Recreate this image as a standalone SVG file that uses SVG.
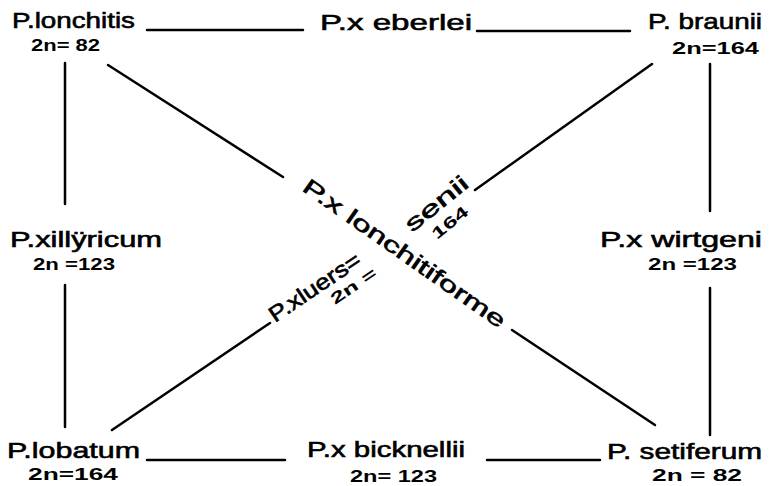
<svg xmlns="http://www.w3.org/2000/svg" width="769" height="486" viewBox="0 0 769 486">
<style>
.n{font-family:"Liberation Sans","DejaVu Sans",sans-serif;font-size:22px;fill:#000;stroke:#000;stroke-width:0.6;}
.c{font-family:"Liberation Sans","DejaVu Sans",sans-serif;font-size:16px;font-weight:bold;fill:#000;}
.l{stroke:#000;stroke-width:2.5;fill:none;stroke-linecap:round;}
</style>
<rect width="769" height="486" fill="#fff"/>
<g id="connectors">
<line class="l" x1="147" y1="30" x2="303" y2="30"/>
<line class="l" x1="477" y1="31" x2="630" y2="31"/>
<line class="l" x1="147" y1="460" x2="285" y2="460"/>
<line class="l" x1="487" y1="460" x2="600" y2="460"/>
<line class="l" x1="65" y1="63" x2="65" y2="204"/>
<line class="l" x1="65" y1="285" x2="65" y2="427"/>
<line class="l" x1="710" y1="64" x2="710" y2="211"/>
<line class="l" x1="710" y1="288" x2="710" y2="435"/>
<line class="l" x1="108" y1="65" x2="283" y2="177"/>
<line class="l" x1="512" y1="330" x2="655" y2="425"/>
<line class="l" x1="652" y1="64" x2="475" y2="190"/>
<line class="l" x1="270" y1="323" x2="112" y2="430"/>
</g>
<g id="lonchitis"><text class="n" x="12" y="28" textLength="123" lengthAdjust="spacingAndGlyphs">P.lonchitis</text><text class="c" x="31" y="51" textLength="69" lengthAdjust="spacingAndGlyphs">2n= 82</text></g>
<g id="eberlei"><text class="n" x="320" y="30" textLength="152" lengthAdjust="spacingAndGlyphs">P.x eberlei</text></g>
<g id="braunii"><text class="n" x="648" y="29" textLength="114" lengthAdjust="spacingAndGlyphs">P. braunii</text><text class="c" x="672" y="54" textLength="87" lengthAdjust="spacingAndGlyphs">2n=164</text></g>
<g id="illyricum"><text class="n" x="10" y="247" textLength="152" lengthAdjust="spacingAndGlyphs">P.xillÿricum</text><text class="c" x="33" y="270" textLength="82" lengthAdjust="spacingAndGlyphs">2n =123</text></g>
<g id="wirtgeni"><text class="n" x="600" y="247" textLength="162" lengthAdjust="spacingAndGlyphs">P.x wirtgeni</text><text class="c" x="648" y="270" textLength="89" lengthAdjust="spacingAndGlyphs">2n =123</text></g>
<g id="lobatum"><text class="n" x="7" y="458" textLength="133" lengthAdjust="spacingAndGlyphs">P.lobatum</text><text class="c" x="28" y="480" textLength="90" lengthAdjust="spacingAndGlyphs">2n=164</text></g>
<g id="bicknellii"><text class="n" x="307" y="457" textLength="158" lengthAdjust="spacingAndGlyphs">P.x bicknellii</text><text class="c" x="350" y="482" textLength="87" lengthAdjust="spacingAndGlyphs">2n= 123</text></g>
<g id="setiferum"><text class="n" x="607" y="459" textLength="155" lengthAdjust="spacingAndGlyphs">P. setiferum</text><text class="c" x="652" y="481" textLength="90" lengthAdjust="spacingAndGlyphs">2n = 82</text></g>
<g id="lonchitiforme"><text class="n" transform="translate(301,190) rotate(35)" x="0" y="0" textLength="242" lengthAdjust="spacingAndGlyphs">P.x lonchitiforme</text></g>
<g id="bicknellii-senii"><text class="n" transform="translate(412,233) rotate(-39)" x="0" y="0" textLength="75" lengthAdjust="spacingAndGlyphs">senii</text><text class="c" transform="translate(437,240) rotate(-39)" x="0" y="0" textLength="42" lengthAdjust="spacingAndGlyphs">164</text></g>
<g id="luerssenii"><text class="n" transform="translate(275,323) rotate(-34)" x="0" y="0" textLength="106" lengthAdjust="spacingAndGlyphs">P.xluers=</text><text class="c" transform="translate(335,305) rotate(-34)" x="0" y="0" textLength="52" lengthAdjust="spacingAndGlyphs">2n =</text></g>
</svg>
